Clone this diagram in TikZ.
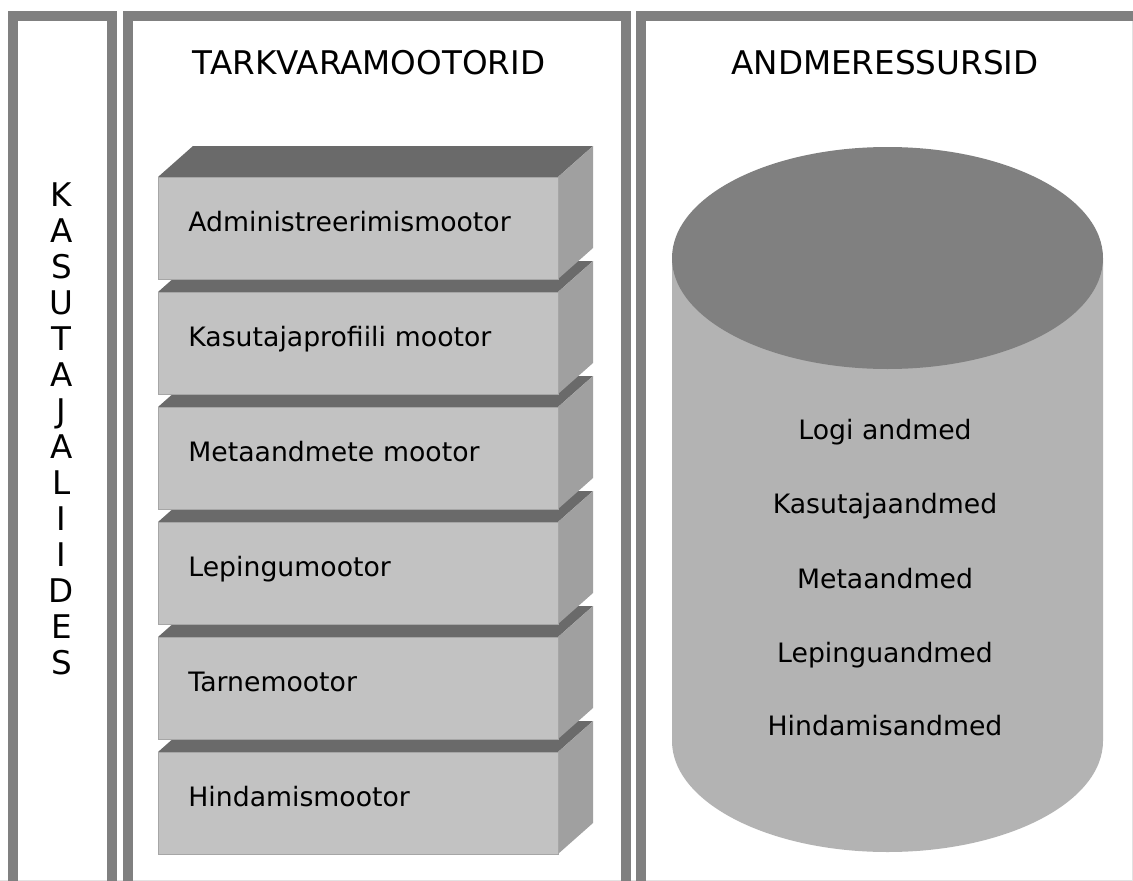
\documentclass[tikz,border=0pt]{standalone}
\usepackage{fontspec}
\setmainfont{DejaVu Sans}
\definecolor{panelgray}{HTML}{808080}
\definecolor{frontgray}{HTML}{C2C2C2}
\definecolor{edgegray}{HTML}{A6A6A6}
\definecolor{topgray}{HTML}{6A6A6A}
\definecolor{sidegray}{HTML}{A0A0A0}
\definecolor{cylbody}{HTML}{B3B3B3}
\definecolor{cyltop}{HTML}{808080}
\definecolor{rimgray}{HTML}{E2E2E2}
\newcommand\headfont{\fontsize{32.6}{38}\selectfont}
\newcommand\enginefont{\fontsize{26.7}{32}\selectfont}
\newcommand\lettersfont{\fontsize{32.6}{36}\selectfont}
% one engine slab: top face, right face, then the labelled front face
% #1 node name, #2 y of the front face top edge, #3 label
\newcommand\engineslab[3]{%
  \fill[topface] (158,#2) -- ++(35,-31) -- ++(400,0) -- ++(-35,31) -- cycle;
  \fill[sideface] (558,#2) -- ++(35,-31) -- ++(0,102) -- ++(-35,31) -- cycle;
  \node[front] (#1) at (158,#2) {#3};%
}
\begin{document}
\begin{tikzpicture}[x=1pt,y=-1pt,
  frame/.style={draw=panelgray,line width=10pt},
  front/.style={fill=frontgray,draw=edgegray,line width=0.8pt,anchor=north west,
    minimum height=102pt,text width=340pt,inner xsep=30pt,inner ysep=0pt,
    align=left,text height=20pt,text depth=13pt,font=\enginefont},
  topface/.style={fill=topgray},
  sideface/.style={fill=sidegray},
  heading/.style={anchor=base,font=\headfont},
  datatext/.style={anchor=base,font=\enginefont}]
\useasboundingbox (0,0) rectangle (1133,881);
\clip (0,0) rectangle (1133,881);
\fill[white] (0,0) rectangle (1133,881);

% faint outer rim of the sheet
\draw[rimgray,line width=1pt] (1132.5,12) -- (1132.5,880.5) -- (0,880.5);

% three open-bottomed panels
\draw[frame] (12.5,900) -- (12.5,16) -- (111.5,16) -- (111.5,900);
\draw[frame] (127.5,900) -- (127.5,16) -- (626,16) -- (626,900);
\draw[frame] (641,900) -- (641,16) -- (1160,16);

% user interface column
\node[align=center,font=\lettersfont,inner sep=0pt] (ui) at (61.5,429)
  {K\\A\\S\\U\\T\\A\\J\\A\\L\\I\\I\\D\\E\\S};

% panel headings
\node[heading] (engines) at (369,74) {TARKVARAMOOTORID};
\node[heading] (resources) at (885,74) {ANDMERESSURSID};

% stack of engines, drawn bottom-up so each slab covers the one below
\engineslab{hind}{752}{Hindamismootor}
\engineslab{tarne}{637}{Tarnemootor}
\engineslab{leping}{522}{Lepingumootor}
\engineslab{meta}{407}{Metaandmete mootor}
\engineslab{profiil}{292}{Kasutajaprofiili mootor}
\engineslab{admin}{177}{Administreerimismootor}

% data store cylinder
\fill[cylbody] (672,258) -- (672,741)
  arc[start angle=180,end angle=0,x radius=215.5,y radius=111]
  -- (1103,258) -- cycle;
\fill[cyltop] (887.5,258) ellipse [x radius=215.5,y radius=111];

\node[datatext] (logi) at (885,439) {Logi andmed};
\node[datatext] (kasutaja) at (885,513) {Kasutajaandmed};
\node[datatext] (metaandmed) at (885,588) {Metaandmed};
\node[datatext] (lepinguandmed) at (885,662) {Lepinguandmed};
\node[datatext] (hindamisandmed) at (885,735) {Hindamisandmed};
\end{tikzpicture}
\end{document}
